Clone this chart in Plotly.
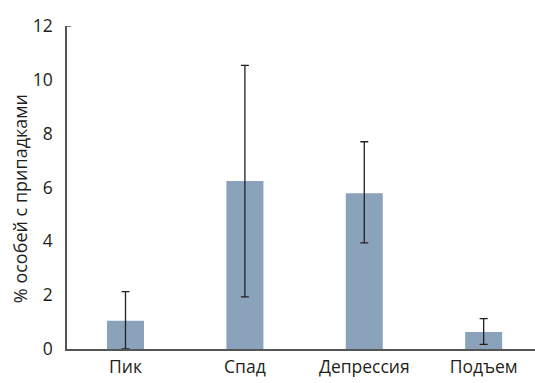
import plotly.graph_objects as go

categories = ["Пик", "Спад", "Депрессия", "Подъем"]
values = [1.05, 6.24, 5.79, 0.63]
err_plus = [1.08, 4.30, 1.91, 0.50]
err_minus = [1.05, 4.30, 1.85, 0.46]
y_ticks = [0, 2, 4, 6, 8, 10, 12]
y_title = "% особей с припадками"

font_family = "Open Sans, Noto Sans, sans-serif"
text_color = "#231f20"

fig = go.Figure()
fig.add_trace(go.Bar(
    x=list(range(len(categories))),
    y=values,
    width=0.31,
    marker=dict(color="#8aa3ba", line=dict(width=0)),
    error_y=dict(type="data", symmetric=False, array=err_plus, arrayminus=err_minus,
                 color=text_color, thickness=1.3, width=4),
))

fig.add_shape(type="line", xref="paper", yref="y", x0=0, x1=0.009, y0=12, y1=12,
              line=dict(color="#555555", width=1.5))

fig.add_annotation(text=y_title, textangle=-90, xref="paper", yref="paper",
                   x=-0.1004, y=0.464, xanchor="center", yanchor="middle",
                   showarrow=False, font=dict(size=18, color=text_color))

fig.update_layout(
    width=535, height=383,
    margin=dict(l=67, r=0, t=26, b=34),
    plot_bgcolor="white", paper_bgcolor="white",
    showlegend=False,
    font=dict(family=font_family, size=17.5, color=text_color),
    xaxis=dict(
        range=[-0.49, 3.43],
        tickmode="array", tickvals=list(range(len(categories))), ticktext=categories,
        showline=True, linecolor="#555555", linewidth=1.5,
        showgrid=False, zeroline=False, ticks="",
        ticklabelstandoff=1,
        tickfont=dict(size=17.5, color=text_color),
    ),
    yaxis=dict(
        range=[0, 12],
        tickmode="array", tickvals=y_ticks,
        showline=True, linecolor="#555555", linewidth=1.5,
        showgrid=False, zeroline=False, ticks="",
        ticklabelstandoff=9,
        tickfont=dict(size=17.5, color=text_color),
    ),
)

fig.write_html("out.html")
